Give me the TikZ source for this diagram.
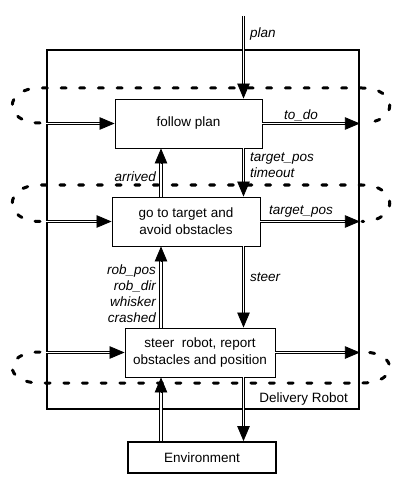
\documentclass[tikz,border=0pt]{standalone}
\usepackage{fontspec}
\setmainfont{Liberation Sans}
\usetikzlibrary{arrows.meta,calc}
\newcommand\sigline[2]{%
  \draw[shaft] #1 -- #2;
  \draw[tipl] ($#2!15pt!#1$) -- #2;}
\begin{document}
\begin{tikzpicture}[x=1pt,y=-1pt,
  every node/.style={font=\fontsize{13.5}{17}\selectfont, inner sep=0pt},
  blk/.style={draw, line width=0.9pt, fill=white, align=center},
  lab/.style={font=\fontsize{13.5}{16}\selectfont\itshape},
  shaft/.style={double distance=1.8pt, line width=0.8pt, shorten >=12pt},
  tipl/.style={line width=0.8pt, -{Triangle[length=15pt,width=12.5pt]}},
  layer/.style={line width=3pt, line cap=round, dash pattern=on 5pt off 13.7pt}]
\useasboundingbox (0,0) rectangle (406,486);
% dashed layer loops
\draw[layer] (40,123) .. controls (3,123) and (3,88) .. (40,88) -- (362,88) .. controls (399,88) and (399,123) .. (362,123);
\draw[layer] (40,221.5) .. controls (3,221.5) and (3,185) .. (40,185) -- (362,185) .. controls (399,185) and (399,221.5) .. (362,221.5);
\draw[layer] (40,352) .. controls (3,352) and (3,383) .. (40,383) -- (362,383) .. controls (399,383) and (399,352) .. (362,352);
% outer robot box
\node[draw, line width=1.8pt, minimum width=312pt, minimum height=359pt] (robot) at (203,229.5) {};
\node[anchor=east] (rlab) at (348,399) {Delivery Robot};
% blocks
\node[blk, minimum width=147pt, minimum height=49pt] (fp) at (188.5,123.5) {follow plan};
\node[blk, minimum width=148pt, minimum height=49pt] (gt) at (186,221.5) {go to target and\\avoid obstacles};
\node[blk, minimum width=150pt, minimum height=49pt] (sr) at (200,352.5) {steer\ \ robot, report\\obstacles and position};
\node[blk, line width=1.8pt, minimum width=148pt, minimum height=31pt] (env) at (202,457.5) {Environment};
% helper coordinates
\coordinate (ux) at (161,0);
\coordinate (dx) at (243.5,0);
\coordinate (plantop) at (243.5,16);
% arrows
\sigline{(plantop)}{(fp.north -| plantop)}
\sigline{(robot.west |- fp.west)}{(fp.west)}
\sigline{(fp.east)}{(robot.east |- fp.east)}
\sigline{(fp.south -| dx)}{(gt.north -| dx)}
\sigline{(gt.north -| ux)}{(fp.south -| ux)}
\sigline{(robot.west |- gt.west)}{(gt.west)}
\sigline{(gt.east)}{(robot.east |- gt.east)}
\sigline{(gt.south -| dx)}{(sr.north -| dx)}
\sigline{(sr.north -| ux)}{(gt.south -| ux)}
\sigline{(robot.west |- sr.west)}{(sr.west)}
\sigline{(sr.east)}{(robot.east |- sr.east)}
\sigline{(sr.south -| dx)}{(env.north -| dx)}
\sigline{(env.north -| ux)}{(sr.south -| ux)}
% labels
\node[lab, anchor=west] (lplan) at (250,34) {plan};
\node[lab] (ltodo) at (301,115) {to\_do};
\node[lab, anchor=west, align=left] (ltp) at (250,165) {target\_pos\\timeout};
\node[lab, anchor=east] (larr) at (156,177) {arrived};
\node[lab] (ltp2) at (301,212) {target\_pos};
\node[lab, anchor=west] (lsteer) at (250,277) {steer};
\node[lab, anchor=east, align=right] (lsens) at (156,294) {rob\_pos\\rob\_dir\\whisker\\crashed};
\end{tikzpicture}
\end{document}
